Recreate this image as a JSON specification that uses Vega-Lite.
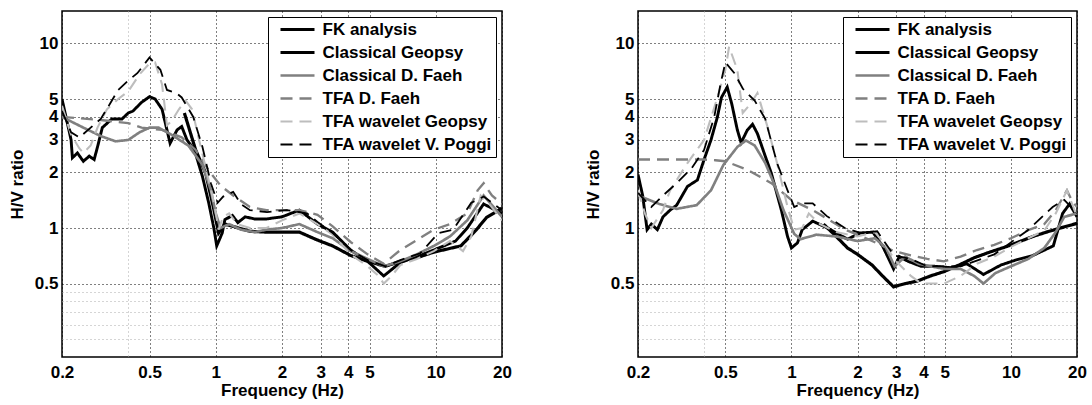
{
"$schema": "https://vega.github.io/schema/vega-lite/v6.json",
"padding": {"left": 7, "top": 10, "right": 4, "bottom": 0},
"config": {
  "font": "Liberation Sans",
  "view": {"stroke": "black", "strokeWidth": 1.5},
  "axis": {"labelFont": "Liberation Sans", "labelFontWeight": "bold", "labelFontSize": 17, "labelColor": "black", "titleFont": "Liberation Sans", "titleFontSize": 17, "titleFontWeight": "bold", "titleColor": "black", "domain": false, "ticks": false, "tickSize": 0, "gridColor": "black", "gridDash": [1, 3], "gridWidth": 1, "gridOpacity": 1, "labelFlush": false, "labelOverlap": false},
  "legend": {"orient": "top-right", "offset": 6, "padding": 4, "rowPadding": 5, "labelFont": "Liberation Sans", "labelFontSize": 17, "labelFontWeight": "bold", "labelColor": "black", "symbolType": "M0,0H8", "symbolSize": 72.25, "strokeColor": "black", "fillColor": "white", "labelOffset": 33.5, "labelLimit": 300}
},
"data": {"values": [
{"p":"L","s":"FK analysis","f":0.72,"v":4.2},{"p":"L","s":"FK analysis","f":0.81,"v":2.65},{"p":"L","s":"FK analysis","f":0.9,"v":1.98},{"p":"L","s":"FK analysis","f":0.98,"v":1.26},{"p":"L","s":"FK analysis","f":1.03,"v":0.94},{"p":"L","s":"FK analysis","f":1.1,"v":1.05},{"p":"L","s":"FK analysis","f":1.2,"v":1.02},{"p":"L","s":"FK analysis","f":1.43,"v":0.96},{"p":"L","s":"FK analysis","f":1.7,"v":0.95},{"p":"L","s":"FK analysis","f":2.0,"v":0.95},{"p":"L","s":"FK analysis","f":2.4,"v":0.95},{"p":"L","s":"FK analysis","f":2.9,"v":0.86},{"p":"L","s":"FK analysis","f":3.4,"v":0.8},{"p":"L","s":"FK analysis","f":4.1,"v":0.71},{"p":"L","s":"FK analysis","f":4.9,"v":0.66},{"p":"L","s":"FK analysis","f":5.9,"v":0.62},{"p":"L","s":"FK analysis","f":6.9,"v":0.66},{"p":"L","s":"FK analysis","f":8.5,"v":0.7},{"p":"L","s":"FK analysis","f":9.8,"v":0.74},{"p":"L","s":"FK analysis","f":13,"v":0.8},{"p":"L","s":"FK analysis","f":15.2,"v":0.97},{"p":"L","s":"FK analysis","f":17,"v":1.14},{"p":"L","s":"FK analysis","f":20,"v":1.28},
{"p":"L","s":"Classical Geopsy","f":0.2,"v":5.0},{"p":"L","s":"Classical Geopsy","f":0.22,"v":3.0},{"p":"L","s":"Classical Geopsy","f":0.223,"v":2.4},{"p":"L","s":"Classical Geopsy","f":0.235,"v":2.55},{"p":"L","s":"Classical Geopsy","f":0.25,"v":2.3},{"p":"L","s":"Classical Geopsy","f":0.266,"v":2.45},{"p":"L","s":"Classical Geopsy","f":0.28,"v":2.35},{"p":"L","s":"Classical Geopsy","f":0.29,"v":2.75},{"p":"L","s":"Classical Geopsy","f":0.305,"v":3.5},{"p":"L","s":"Classical Geopsy","f":0.337,"v":3.9},{"p":"L","s":"Classical Geopsy","f":0.375,"v":3.9},{"p":"L","s":"Classical Geopsy","f":0.4,"v":4.2},{"p":"L","s":"Classical Geopsy","f":0.42,"v":4.3},{"p":"L","s":"Classical Geopsy","f":0.46,"v":4.8},{"p":"L","s":"Classical Geopsy","f":0.5,"v":5.15},{"p":"L","s":"Classical Geopsy","f":0.53,"v":5.0},{"p":"L","s":"Classical Geopsy","f":0.57,"v":4.4},{"p":"L","s":"Classical Geopsy","f":0.6,"v":3.4},{"p":"L","s":"Classical Geopsy","f":0.62,"v":2.88},{"p":"L","s":"Classical Geopsy","f":0.667,"v":3.4},{"p":"L","s":"Classical Geopsy","f":0.7,"v":3.55},{"p":"L","s":"Classical Geopsy","f":0.74,"v":3.0},{"p":"L","s":"Classical Geopsy","f":0.8,"v":2.65},{"p":"L","s":"Classical Geopsy","f":0.87,"v":1.9},{"p":"L","s":"Classical Geopsy","f":0.93,"v":1.36},{"p":"L","s":"Classical Geopsy","f":0.98,"v":1.0},{"p":"L","s":"Classical Geopsy","f":1.01,"v":0.8},{"p":"L","s":"Classical Geopsy","f":1.07,"v":0.94},{"p":"L","s":"Classical Geopsy","f":1.1,"v":1.11},{"p":"L","s":"Classical Geopsy","f":1.19,"v":1.17},{"p":"L","s":"Classical Geopsy","f":1.26,"v":1.07},{"p":"L","s":"Classical Geopsy","f":1.36,"v":1.15},{"p":"L","s":"Classical Geopsy","f":1.5,"v":1.12},{"p":"L","s":"Classical Geopsy","f":1.7,"v":1.12},{"p":"L","s":"Classical Geopsy","f":2.0,"v":1.15},{"p":"L","s":"Classical Geopsy","f":2.4,"v":1.25},{"p":"L","s":"Classical Geopsy","f":2.9,"v":1.05},{"p":"L","s":"Classical Geopsy","f":3.4,"v":0.95},{"p":"L","s":"Classical Geopsy","f":4.1,"v":0.76},{"p":"L","s":"Classical Geopsy","f":4.9,"v":0.66},{"p":"L","s":"Classical Geopsy","f":5.8,"v":0.55},{"p":"L","s":"Classical Geopsy","f":6.9,"v":0.65},{"p":"L","s":"Classical Geopsy","f":8.2,"v":0.7},{"p":"L","s":"Classical Geopsy","f":9.8,"v":0.76},{"p":"L","s":"Classical Geopsy","f":12.3,"v":0.85},{"p":"L","s":"Classical Geopsy","f":13.9,"v":1.0},{"p":"L","s":"Classical Geopsy","f":16.5,"v":1.35},{"p":"L","s":"Classical Geopsy","f":20,"v":1.2},
{"p":"L","s":"Classical D. Faeh","f":0.2,"v":4.0},{"p":"L","s":"Classical D. Faeh","f":0.25,"v":3.5},{"p":"L","s":"Classical D. Faeh","f":0.3,"v":3.15},{"p":"L","s":"Classical D. Faeh","f":0.35,"v":2.95},{"p":"L","s":"Classical D. Faeh","f":0.4,"v":3.0},{"p":"L","s":"Classical D. Faeh","f":0.45,"v":3.3},{"p":"L","s":"Classical D. Faeh","f":0.5,"v":3.5},{"p":"L","s":"Classical D. Faeh","f":0.55,"v":3.5},{"p":"L","s":"Classical D. Faeh","f":0.63,"v":3.2},{"p":"L","s":"Classical D. Faeh","f":0.75,"v":2.8},{"p":"L","s":"Classical D. Faeh","f":0.87,"v":2.2},{"p":"L","s":"Classical D. Faeh","f":0.95,"v":1.6},{"p":"L","s":"Classical D. Faeh","f":1.0,"v":1.2},{"p":"L","s":"Classical D. Faeh","f":1.05,"v":1.0},{"p":"L","s":"Classical D. Faeh","f":1.15,"v":1.05},{"p":"L","s":"Classical D. Faeh","f":1.3,"v":0.98},{"p":"L","s":"Classical D. Faeh","f":1.5,"v":0.95},{"p":"L","s":"Classical D. Faeh","f":1.7,"v":0.98},{"p":"L","s":"Classical D. Faeh","f":2.0,"v":1.0},{"p":"L","s":"Classical D. Faeh","f":2.4,"v":1.05},{"p":"L","s":"Classical D. Faeh","f":2.9,"v":0.95},{"p":"L","s":"Classical D. Faeh","f":3.4,"v":0.88},{"p":"L","s":"Classical D. Faeh","f":4.1,"v":0.75},{"p":"L","s":"Classical D. Faeh","f":4.9,"v":0.68},{"p":"L","s":"Classical D. Faeh","f":5.8,"v":0.62},{"p":"L","s":"Classical D. Faeh","f":6.9,"v":0.66},{"p":"L","s":"Classical D. Faeh","f":8.2,"v":0.72},{"p":"L","s":"Classical D. Faeh","f":9.8,"v":0.8},{"p":"L","s":"Classical D. Faeh","f":11.6,"v":0.9},{"p":"L","s":"Classical D. Faeh","f":13.9,"v":1.1},{"p":"L","s":"Classical D. Faeh","f":16.5,"v":1.5},{"p":"L","s":"Classical D. Faeh","f":20,"v":1.15},
{"p":"L","s":"TFA D. Faeh","f":0.2,"v":4.0},{"p":"L","s":"TFA D. Faeh","f":0.3,"v":3.85},{"p":"L","s":"TFA D. Faeh","f":0.4,"v":3.7},{"p":"L","s":"TFA D. Faeh","f":0.46,"v":3.5},{"p":"L","s":"TFA D. Faeh","f":0.57,"v":3.4},{"p":"L","s":"TFA D. Faeh","f":0.7,"v":3.1},{"p":"L","s":"TFA D. Faeh","f":0.81,"v":2.65},{"p":"L","s":"TFA D. Faeh","f":0.93,"v":2.05},{"p":"L","s":"TFA D. Faeh","f":1.05,"v":1.7},{"p":"L","s":"TFA D. Faeh","f":1.2,"v":1.5},{"p":"L","s":"TFA D. Faeh","f":1.43,"v":1.3},{"p":"L","s":"TFA D. Faeh","f":1.7,"v":1.25},{"p":"L","s":"TFA D. Faeh","f":2.0,"v":1.25},{"p":"L","s":"TFA D. Faeh","f":2.4,"v":1.25},{"p":"L","s":"TFA D. Faeh","f":2.9,"v":1.18},{"p":"L","s":"TFA D. Faeh","f":3.4,"v":1.02},{"p":"L","s":"TFA D. Faeh","f":4.1,"v":0.84},{"p":"L","s":"TFA D. Faeh","f":4.9,"v":0.72},{"p":"L","s":"TFA D. Faeh","f":5.8,"v":0.64},{"p":"L","s":"TFA D. Faeh","f":6.9,"v":0.76},{"p":"L","s":"TFA D. Faeh","f":8.2,"v":0.86},{"p":"L","s":"TFA D. Faeh","f":9.8,"v":0.98},{"p":"L","s":"TFA D. Faeh","f":11.6,"v":1.05},{"p":"L","s":"TFA D. Faeh","f":13.9,"v":1.2},{"p":"L","s":"TFA D. Faeh","f":15.5,"v":1.6},{"p":"L","s":"TFA D. Faeh","f":16.5,"v":1.75},{"p":"L","s":"TFA D. Faeh","f":18,"v":1.5},{"p":"L","s":"TFA D. Faeh","f":20,"v":1.35},
{"p":"L","s":"TFA wavelet Geopsy","f":0.2,"v":4.6},{"p":"L","s":"TFA wavelet Geopsy","f":0.22,"v":3.2},{"p":"L","s":"TFA wavelet Geopsy","f":0.24,"v":2.7},{"p":"L","s":"TFA wavelet Geopsy","f":0.25,"v":2.55},{"p":"L","s":"TFA wavelet Geopsy","f":0.27,"v":2.8},{"p":"L","s":"TFA wavelet Geopsy","f":0.29,"v":3.5},{"p":"L","s":"TFA wavelet Geopsy","f":0.32,"v":4.4},{"p":"L","s":"TFA wavelet Geopsy","f":0.36,"v":5.0},{"p":"L","s":"TFA wavelet Geopsy","f":0.4,"v":5.5},{"p":"L","s":"TFA wavelet Geopsy","f":0.45,"v":6.8},{"p":"L","s":"TFA wavelet Geopsy","f":0.5,"v":7.8},{"p":"L","s":"TFA wavelet Geopsy","f":0.53,"v":7.9},{"p":"L","s":"TFA wavelet Geopsy","f":0.57,"v":6.0},{"p":"L","s":"TFA wavelet Geopsy","f":0.6,"v":3.6},{"p":"L","s":"TFA wavelet Geopsy","f":0.63,"v":3.8},{"p":"L","s":"TFA wavelet Geopsy","f":0.68,"v":4.4},{"p":"L","s":"TFA wavelet Geopsy","f":0.73,"v":4.9},{"p":"L","s":"TFA wavelet Geopsy","f":0.78,"v":4.4},{"p":"L","s":"TFA wavelet Geopsy","f":0.84,"v":3.0},{"p":"L","s":"TFA wavelet Geopsy","f":0.93,"v":1.8},{"p":"L","s":"TFA wavelet Geopsy","f":0.99,"v":1.3},{"p":"L","s":"TFA wavelet Geopsy","f":1.03,"v":0.98},{"p":"L","s":"TFA wavelet Geopsy","f":1.08,"v":1.15},{"p":"L","s":"TFA wavelet Geopsy","f":1.15,"v":1.2},{"p":"L","s":"TFA wavelet Geopsy","f":1.25,"v":1.05},{"p":"L","s":"TFA wavelet Geopsy","f":1.43,"v":1.0},{"p":"L","s":"TFA wavelet Geopsy","f":1.7,"v":1.0},{"p":"L","s":"TFA wavelet Geopsy","f":2.0,"v":1.1},{"p":"L","s":"TFA wavelet Geopsy","f":2.4,"v":1.2},{"p":"L","s":"TFA wavelet Geopsy","f":2.9,"v":1.05},{"p":"L","s":"TFA wavelet Geopsy","f":3.4,"v":0.92},{"p":"L","s":"TFA wavelet Geopsy","f":4.1,"v":0.72},{"p":"L","s":"TFA wavelet Geopsy","f":4.9,"v":0.62},{"p":"L","s":"TFA wavelet Geopsy","f":5.5,"v":0.55},{"p":"L","s":"TFA wavelet Geopsy","f":5.8,"v":0.5},{"p":"L","s":"TFA wavelet Geopsy","f":6.3,"v":0.55},{"p":"L","s":"TFA wavelet Geopsy","f":6.9,"v":0.63},{"p":"L","s":"TFA wavelet Geopsy","f":8.2,"v":0.68},{"p":"L","s":"TFA wavelet Geopsy","f":9.8,"v":0.75},{"p":"L","s":"TFA wavelet Geopsy","f":11.6,"v":0.85},{"p":"L","s":"TFA wavelet Geopsy","f":13.3,"v":0.75},{"p":"L","s":"TFA wavelet Geopsy","f":14.5,"v":0.9},{"p":"L","s":"TFA wavelet Geopsy","f":16,"v":1.5},{"p":"L","s":"TFA wavelet Geopsy","f":17.5,"v":1.35},{"p":"L","s":"TFA wavelet Geopsy","f":20,"v":1.1},
{"p":"L","s":"TFA wavelet V. Poggi","f":0.2,"v":4.3},{"p":"L","s":"TFA wavelet V. Poggi","f":0.22,"v":3.3},{"p":"L","s":"TFA wavelet V. Poggi","f":0.24,"v":3.1},{"p":"L","s":"TFA wavelet V. Poggi","f":0.27,"v":3.5},{"p":"L","s":"TFA wavelet V. Poggi","f":0.3,"v":3.9},{"p":"L","s":"TFA wavelet V. Poggi","f":0.33,"v":4.7},{"p":"L","s":"TFA wavelet V. Poggi","f":0.36,"v":5.6},{"p":"L","s":"TFA wavelet V. Poggi","f":0.4,"v":6.3},{"p":"L","s":"TFA wavelet V. Poggi","f":0.44,"v":6.9},{"p":"L","s":"TFA wavelet V. Poggi","f":0.5,"v":8.4},{"p":"L","s":"TFA wavelet V. Poggi","f":0.56,"v":7.2},{"p":"L","s":"TFA wavelet V. Poggi","f":0.6,"v":5.6},{"p":"L","s":"TFA wavelet V. Poggi","f":0.66,"v":5.4},{"p":"L","s":"TFA wavelet V. Poggi","f":0.7,"v":5.1},{"p":"L","s":"TFA wavelet V. Poggi","f":0.79,"v":4.0},{"p":"L","s":"TFA wavelet V. Poggi","f":0.87,"v":2.75},{"p":"L","s":"TFA wavelet V. Poggi","f":0.95,"v":1.75},{"p":"L","s":"TFA wavelet V. Poggi","f":1.02,"v":1.37},{"p":"L","s":"TFA wavelet V. Poggi","f":1.08,"v":1.48},{"p":"L","s":"TFA wavelet V. Poggi","f":1.2,"v":1.57},{"p":"L","s":"TFA wavelet V. Poggi","f":1.3,"v":1.35},{"p":"L","s":"TFA wavelet V. Poggi","f":1.43,"v":1.25},{"p":"L","s":"TFA wavelet V. Poggi","f":1.71,"v":1.22},{"p":"L","s":"TFA wavelet V. Poggi","f":2.1,"v":1.25},{"p":"L","s":"TFA wavelet V. Poggi","f":2.6,"v":1.2},{"p":"L","s":"TFA wavelet V. Poggi","f":2.9,"v":1.08},{"p":"L","s":"TFA wavelet V. Poggi","f":3.4,"v":0.94},{"p":"L","s":"TFA wavelet V. Poggi","f":4.1,"v":0.76},{"p":"L","s":"TFA wavelet V. Poggi","f":4.9,"v":0.67},{"p":"L","s":"TFA wavelet V. Poggi","f":5.9,"v":0.62},{"p":"L","s":"TFA wavelet V. Poggi","f":6.9,"v":0.67},{"p":"L","s":"TFA wavelet V. Poggi","f":8.5,"v":0.73},{"p":"L","s":"TFA wavelet V. Poggi","f":10.3,"v":0.94},{"p":"L","s":"TFA wavelet V. Poggi","f":12,"v":0.98},{"p":"L","s":"TFA wavelet V. Poggi","f":14.5,"v":1.37},{"p":"L","s":"TFA wavelet V. Poggi","f":16.5,"v":1.48},{"p":"L","s":"TFA wavelet V. Poggi","f":20,"v":1.25},
{"p":"R","s":"FK analysis","f":1.4,"v":1.05},{"p":"R","s":"FK analysis","f":1.6,"v":0.9},{"p":"R","s":"FK analysis","f":1.8,"v":0.78},{"p":"R","s":"FK analysis","f":2.0,"v":0.72},{"p":"R","s":"FK analysis","f":2.33,"v":0.63},{"p":"R","s":"FK analysis","f":2.6,"v":0.55},{"p":"R","s":"FK analysis","f":2.92,"v":0.48},{"p":"R","s":"FK analysis","f":3.3,"v":0.5},{"p":"R","s":"FK analysis","f":3.73,"v":0.515},{"p":"R","s":"FK analysis","f":4.3,"v":0.55},{"p":"R","s":"FK analysis","f":4.95,"v":0.58},{"p":"R","s":"FK analysis","f":5.8,"v":0.63},{"p":"R","s":"FK analysis","f":6.8,"v":0.69},{"p":"R","s":"FK analysis","f":8,"v":0.74},{"p":"R","s":"FK analysis","f":9.6,"v":0.795},{"p":"R","s":"FK analysis","f":12.6,"v":0.9},{"p":"R","s":"FK analysis","f":14.5,"v":0.95},{"p":"R","s":"FK analysis","f":16.8,"v":1.0},{"p":"R","s":"FK analysis","f":20,"v":1.06},
{"p":"R","s":"Classical Geopsy","f":0.2,"v":1.95},{"p":"R","s":"Classical Geopsy","f":0.21,"v":1.5},{"p":"R","s":"Classical Geopsy","f":0.22,"v":0.98},{"p":"R","s":"Classical Geopsy","f":0.23,"v":1.05},{"p":"R","s":"Classical Geopsy","f":0.245,"v":0.98},{"p":"R","s":"Classical Geopsy","f":0.26,"v":1.15},{"p":"R","s":"Classical Geopsy","f":0.28,"v":1.25},{"p":"R","s":"Classical Geopsy","f":0.3,"v":1.33},{"p":"R","s":"Classical Geopsy","f":0.336,"v":1.68},{"p":"R","s":"Classical Geopsy","f":0.373,"v":1.82},{"p":"R","s":"Classical Geopsy","f":0.4,"v":2.35},{"p":"R","s":"Classical Geopsy","f":0.43,"v":3.0},{"p":"R","s":"Classical Geopsy","f":0.46,"v":4.0},{"p":"R","s":"Classical Geopsy","f":0.48,"v":5.1},{"p":"R","s":"Classical Geopsy","f":0.51,"v":5.8},{"p":"R","s":"Classical Geopsy","f":0.535,"v":4.7},{"p":"R","s":"Classical Geopsy","f":0.567,"v":3.4},{"p":"R","s":"Classical Geopsy","f":0.59,"v":2.9},{"p":"R","s":"Classical Geopsy","f":0.63,"v":3.4},{"p":"R","s":"Classical Geopsy","f":0.665,"v":3.65},{"p":"R","s":"Classical Geopsy","f":0.7,"v":3.25},{"p":"R","s":"Classical Geopsy","f":0.76,"v":2.45},{"p":"R","s":"Classical Geopsy","f":0.81,"v":1.98},{"p":"R","s":"Classical Geopsy","f":0.9,"v":1.25},{"p":"R","s":"Classical Geopsy","f":0.96,"v":0.9},{"p":"R","s":"Classical Geopsy","f":1.0,"v":0.78},{"p":"R","s":"Classical Geopsy","f":1.065,"v":0.83},{"p":"R","s":"Classical Geopsy","f":1.12,"v":0.98},{"p":"R","s":"Classical Geopsy","f":1.25,"v":1.09},{"p":"R","s":"Classical Geopsy","f":1.46,"v":1.0},{"p":"R","s":"Classical Geopsy","f":1.8,"v":0.87},{"p":"R","s":"Classical Geopsy","f":2.06,"v":0.94},{"p":"R","s":"Classical Geopsy","f":2.35,"v":0.95},{"p":"R","s":"Classical Geopsy","f":2.6,"v":0.8},{"p":"R","s":"Classical Geopsy","f":2.92,"v":0.6},{"p":"R","s":"Classical Geopsy","f":3.1,"v":0.7},{"p":"R","s":"Classical Geopsy","f":3.4,"v":0.66},{"p":"R","s":"Classical Geopsy","f":3.9,"v":0.62},{"p":"R","s":"Classical Geopsy","f":4.5,"v":0.62},{"p":"R","s":"Classical Geopsy","f":5.3,"v":0.61},{"p":"R","s":"Classical Geopsy","f":6.3,"v":0.64},{"p":"R","s":"Classical Geopsy","f":7.5,"v":0.56},{"p":"R","s":"Classical Geopsy","f":9.0,"v":0.63},{"p":"R","s":"Classical Geopsy","f":10.5,"v":0.67},{"p":"R","s":"Classical Geopsy","f":12.6,"v":0.71},{"p":"R","s":"Classical Geopsy","f":15.6,"v":0.8},{"p":"R","s":"Classical Geopsy","f":17.2,"v":1.2},{"p":"R","s":"Classical Geopsy","f":18.5,"v":1.35},{"p":"R","s":"Classical Geopsy","f":20,"v":1.15},
{"p":"R","s":"Classical D. Faeh","f":0.2,"v":1.5},{"p":"R","s":"Classical D. Faeh","f":0.25,"v":1.35},{"p":"R","s":"Classical D. Faeh","f":0.3,"v":1.27},{"p":"R","s":"Classical D. Faeh","f":0.37,"v":1.33},{"p":"R","s":"Classical D. Faeh","f":0.43,"v":1.6},{"p":"R","s":"Classical D. Faeh","f":0.49,"v":2.2},{"p":"R","s":"Classical D. Faeh","f":0.567,"v":2.75},{"p":"R","s":"Classical D. Faeh","f":0.62,"v":2.98},{"p":"R","s":"Classical D. Faeh","f":0.68,"v":2.8},{"p":"R","s":"Classical D. Faeh","f":0.76,"v":2.25},{"p":"R","s":"Classical D. Faeh","f":0.84,"v":1.7},{"p":"R","s":"Classical D. Faeh","f":0.92,"v":1.25},{"p":"R","s":"Classical D. Faeh","f":1.03,"v":0.93},{"p":"R","s":"Classical D. Faeh","f":1.1,"v":0.87},{"p":"R","s":"Classical D. Faeh","f":1.3,"v":0.92},{"p":"R","s":"Classical D. Faeh","f":1.6,"v":0.9},{"p":"R","s":"Classical D. Faeh","f":2.0,"v":0.85},{"p":"R","s":"Classical D. Faeh","f":2.4,"v":0.88},{"p":"R","s":"Classical D. Faeh","f":2.7,"v":0.78},{"p":"R","s":"Classical D. Faeh","f":2.95,"v":0.62},{"p":"R","s":"Classical D. Faeh","f":3.3,"v":0.7},{"p":"R","s":"Classical D. Faeh","f":3.8,"v":0.64},{"p":"R","s":"Classical D. Faeh","f":4.3,"v":0.62},{"p":"R","s":"Classical D. Faeh","f":5.0,"v":0.6},{"p":"R","s":"Classical D. Faeh","f":5.9,"v":0.6},{"p":"R","s":"Classical D. Faeh","f":6.8,"v":0.55},{"p":"R","s":"Classical D. Faeh","f":7.5,"v":0.5},{"p":"R","s":"Classical D. Faeh","f":8.5,"v":0.57},{"p":"R","s":"Classical D. Faeh","f":10,"v":0.62},{"p":"R","s":"Classical D. Faeh","f":12,"v":0.68},{"p":"R","s":"Classical D. Faeh","f":14.2,"v":0.78},{"p":"R","s":"Classical D. Faeh","f":16,"v":0.95},{"p":"R","s":"Classical D. Faeh","f":17.5,"v":1.15},{"p":"R","s":"Classical D. Faeh","f":20,"v":1.2},
{"p":"R","s":"TFA D. Faeh","f":0.2,"v":2.35},{"p":"R","s":"TFA D. Faeh","f":0.3,"v":2.35},{"p":"R","s":"TFA D. Faeh","f":0.4,"v":2.35},{"p":"R","s":"TFA D. Faeh","f":0.45,"v":2.33},{"p":"R","s":"TFA D. Faeh","f":0.5,"v":2.3},{"p":"R","s":"TFA D. Faeh","f":0.63,"v":2.07},{"p":"R","s":"TFA D. Faeh","f":0.81,"v":1.75},{"p":"R","s":"TFA D. Faeh","f":1.0,"v":1.42},{"p":"R","s":"TFA D. Faeh","f":1.25,"v":1.25},{"p":"R","s":"TFA D. Faeh","f":1.5,"v":1.1},{"p":"R","s":"TFA D. Faeh","f":1.75,"v":0.98},{"p":"R","s":"TFA D. Faeh","f":2.0,"v":0.92},{"p":"R","s":"TFA D. Faeh","f":2.5,"v":0.82},{"p":"R","s":"TFA D. Faeh","f":2.93,"v":0.75},{"p":"R","s":"TFA D. Faeh","f":3.5,"v":0.71},{"p":"R","s":"TFA D. Faeh","f":4.16,"v":0.68},{"p":"R","s":"TFA D. Faeh","f":4.95,"v":0.66},{"p":"R","s":"TFA D. Faeh","f":5.9,"v":0.7},{"p":"R","s":"TFA D. Faeh","f":7.0,"v":0.76},{"p":"R","s":"TFA D. Faeh","f":8.4,"v":0.81},{"p":"R","s":"TFA D. Faeh","f":10,"v":0.88},{"p":"R","s":"TFA D. Faeh","f":11.9,"v":0.97},{"p":"R","s":"TFA D. Faeh","f":14.2,"v":1.05},{"p":"R","s":"TFA D. Faeh","f":16,"v":1.25},{"p":"R","s":"TFA D. Faeh","f":18,"v":1.6},{"p":"R","s":"TFA D. Faeh","f":19,"v":1.4},{"p":"R","s":"TFA D. Faeh","f":20,"v":1.3},
{"p":"R","s":"TFA wavelet Geopsy","f":0.2,"v":1.6},{"p":"R","s":"TFA wavelet Geopsy","f":0.215,"v":1.2},{"p":"R","s":"TFA wavelet Geopsy","f":0.23,"v":1.0},{"p":"R","s":"TFA wavelet Geopsy","f":0.26,"v":1.25},{"p":"R","s":"TFA wavelet Geopsy","f":0.28,"v":1.6},{"p":"R","s":"TFA wavelet Geopsy","f":0.336,"v":2.25},{"p":"R","s":"TFA wavelet Geopsy","f":0.4,"v":3.0},{"p":"R","s":"TFA wavelet Geopsy","f":0.46,"v":5.1},{"p":"R","s":"TFA wavelet Geopsy","f":0.5,"v":7.2},{"p":"R","s":"TFA wavelet Geopsy","f":0.52,"v":9.6},{"p":"R","s":"TFA wavelet Geopsy","f":0.567,"v":7.2},{"p":"R","s":"TFA wavelet Geopsy","f":0.6,"v":4.2},{"p":"R","s":"TFA wavelet Geopsy","f":0.65,"v":4.7},{"p":"R","s":"TFA wavelet Geopsy","f":0.7,"v":5.4},{"p":"R","s":"TFA wavelet Geopsy","f":0.78,"v":3.5},{"p":"R","s":"TFA wavelet Geopsy","f":0.86,"v":2.25},{"p":"R","s":"TFA wavelet Geopsy","f":0.96,"v":1.3},{"p":"R","s":"TFA wavelet Geopsy","f":1.03,"v":0.98},{"p":"R","s":"TFA wavelet Geopsy","f":1.12,"v":1.0},{"p":"R","s":"TFA wavelet Geopsy","f":1.2,"v":1.2},{"p":"R","s":"TFA wavelet Geopsy","f":1.35,"v":1.05},{"p":"R","s":"TFA wavelet Geopsy","f":1.6,"v":0.95},{"p":"R","s":"TFA wavelet Geopsy","f":2.0,"v":0.9},{"p":"R","s":"TFA wavelet Geopsy","f":2.4,"v":0.95},{"p":"R","s":"TFA wavelet Geopsy","f":2.7,"v":0.8},{"p":"R","s":"TFA wavelet Geopsy","f":2.93,"v":0.68},{"p":"R","s":"TFA wavelet Geopsy","f":3.5,"v":0.55},{"p":"R","s":"TFA wavelet Geopsy","f":3.9,"v":0.5},{"p":"R","s":"TFA wavelet Geopsy","f":4.5,"v":0.5},{"p":"R","s":"TFA wavelet Geopsy","f":4.95,"v":0.5},{"p":"R","s":"TFA wavelet Geopsy","f":5.9,"v":0.55},{"p":"R","s":"TFA wavelet Geopsy","f":7.0,"v":0.64},{"p":"R","s":"TFA wavelet Geopsy","f":8.4,"v":0.7},{"p":"R","s":"TFA wavelet Geopsy","f":10,"v":0.79},{"p":"R","s":"TFA wavelet Geopsy","f":12,"v":0.88},{"p":"R","s":"TFA wavelet Geopsy","f":14.2,"v":0.97},{"p":"R","s":"TFA wavelet Geopsy","f":16,"v":1.2},{"p":"R","s":"TFA wavelet Geopsy","f":18,"v":1.6},{"p":"R","s":"TFA wavelet Geopsy","f":20,"v":1.15},
{"p":"R","s":"TFA wavelet V. Poggi","f":0.2,"v":1.55},{"p":"R","s":"TFA wavelet V. Poggi","f":0.23,"v":1.3},{"p":"R","s":"TFA wavelet V. Poggi","f":0.26,"v":1.5},{"p":"R","s":"TFA wavelet V. Poggi","f":0.3,"v":1.75},{"p":"R","s":"TFA wavelet V. Poggi","f":0.35,"v":2.1},{"p":"R","s":"TFA wavelet V. Poggi","f":0.4,"v":2.65},{"p":"R","s":"TFA wavelet V. Poggi","f":0.445,"v":4.0},{"p":"R","s":"TFA wavelet V. Poggi","f":0.475,"v":6.0},{"p":"R","s":"TFA wavelet V. Poggi","f":0.5,"v":7.9},{"p":"R","s":"TFA wavelet V. Poggi","f":0.55,"v":6.9},{"p":"R","s":"TFA wavelet V. Poggi","f":0.6,"v":5.7},{"p":"R","s":"TFA wavelet V. Poggi","f":0.68,"v":4.9},{"p":"R","s":"TFA wavelet V. Poggi","f":0.76,"v":3.9},{"p":"R","s":"TFA wavelet V. Poggi","f":0.86,"v":2.25},{"p":"R","s":"TFA wavelet V. Poggi","f":0.96,"v":1.6},{"p":"R","s":"TFA wavelet V. Poggi","f":1.03,"v":1.3},{"p":"R","s":"TFA wavelet V. Poggi","f":1.12,"v":1.36},{"p":"R","s":"TFA wavelet V. Poggi","f":1.25,"v":1.36},{"p":"R","s":"TFA wavelet V. Poggi","f":1.45,"v":1.16},{"p":"R","s":"TFA wavelet V. Poggi","f":1.75,"v":1.0},{"p":"R","s":"TFA wavelet V. Poggi","f":2.06,"v":0.94},{"p":"R","s":"TFA wavelet V. Poggi","f":2.46,"v":0.96},{"p":"R","s":"TFA wavelet V. Poggi","f":2.93,"v":0.71},{"p":"R","s":"TFA wavelet V. Poggi","f":3.5,"v":0.68},{"p":"R","s":"TFA wavelet V. Poggi","f":4.16,"v":0.62},{"p":"R","s":"TFA wavelet V. Poggi","f":5.9,"v":0.62},{"p":"R","s":"TFA wavelet V. Poggi","f":8.4,"v":0.72},{"p":"R","s":"TFA wavelet V. Poggi","f":11.9,"v":0.97},{"p":"R","s":"TFA wavelet V. Poggi","f":15.5,"v":1.3},{"p":"R","s":"TFA wavelet V. Poggi","f":17.5,"v":1.42},{"p":"R","s":"TFA wavelet V. Poggi","f":20,"v":1.2}
]},
"bounds": "flush",
"spacing": 136,
"resolve": {"scale": {"color": "independent", "strokeDash": "independent", "strokeWidth": "independent"}, "legend": {"color": "independent", "strokeDash": "independent", "strokeWidth": "independent"}},
"hconcat": [
{
  "width": 440, "height": 346,
  "transform": [{"filter": "datum.p == 'L'"}],
  "mark": {"type": "line", "clip": true},
  "encoding": {
    "x": {"field": "f", "type": "quantitative", "scale": {"type": "log", "domain": [0.2, 20], "nice": false}, "axis": {"values": [0.2, 0.4, 0.5, 1, 2, 3, 4, 5, 10, 20], "format": "~g", "labelExpr": "datum.value == 0.4 ? '' : datum.label", "title": "Frequency (Hz)", "labelPadding": 7, "titlePadding": 2, "gridColor": {"condition": {"test": "datum.value == 0.4", "value": "#aaaaaa"}, "value": "black"}}},
    "y": {"field": "v", "type": "quantitative", "scale": {"type": "log", "domain": [0.2, 15], "nice": false}, "axis": {"values": [0.25, 0.3, 0.35, 0.4, 0.45, 0.5, 1, 2, 3, 4, 5, 10], "format": "~g", "labelExpr": "datum.value < 0.5 ? '' : datum.label", "title": "H/V ratio", "labelPadding": 4, "titlePadding": 8, "gridColor": {"condition": {"test": "datum.value < 0.5", "value": "#aaaaaa"}, "value": "black"}}},
    "color": {"field": "s", "type": "nominal", "title": null, "scale": {"domain": ["FK analysis", "Classical Geopsy", "Classical D. Faeh", "TFA D. Faeh", "TFA wavelet Geopsy", "TFA wavelet V. Poggi"], "range": ["black", "black", "#808080", "#808080", "#bdbdbd", "black"]}},
    "strokeDash": {"field": "s", "type": "nominal", "title": null, "scale": {"domain": ["FK analysis", "Classical Geopsy", "Classical D. Faeh", "TFA D. Faeh", "TFA wavelet Geopsy", "TFA wavelet V. Poggi"], "range": [[1, 0], [1, 0], [1, 0], [12, 7], [12, 7], [12, 7]]}},
    "strokeWidth": {"field": "s", "type": "nominal", "title": null, "scale": {"domain": ["FK analysis", "Classical Geopsy", "Classical D. Faeh", "TFA D. Faeh", "TFA wavelet Geopsy", "TFA wavelet V. Poggi"], "range": [3.2, 1.8, 2, 2, 2.2, 2]}}
  }
},
{
  "width": 439, "height": 346,
  "transform": [{"filter": "datum.p == 'R'"}],
  "mark": {"type": "line", "clip": true},
  "encoding": {
    "x": {"field": "f", "type": "quantitative", "scale": {"type": "log", "domain": [0.2, 20], "nice": false}, "axis": {"values": [0.2, 0.4, 0.5, 1, 2, 3, 4, 5, 10, 20], "format": "~g", "labelExpr": "datum.value == 0.4 ? '' : datum.label", "title": "Frequency (Hz)", "labelPadding": 7, "titlePadding": 2, "gridColor": {"condition": {"test": "datum.value == 0.4", "value": "#aaaaaa"}, "value": "black"}}},
    "y": {"field": "v", "type": "quantitative", "scale": {"type": "log", "domain": [0.2, 15], "nice": false}, "axis": {"values": [0.25, 0.3, 0.35, 0.4, 0.45, 0.5, 1, 2, 3, 4, 5, 10], "format": "~g", "labelExpr": "datum.value < 0.5 ? '' : datum.label", "title": "H/V ratio", "labelPadding": 4, "titlePadding": 8, "gridColor": {"condition": {"test": "datum.value < 0.5", "value": "#aaaaaa"}, "value": "black"}}},
    "color": {"field": "s", "type": "nominal", "title": null, "scale": {"domain": ["FK analysis", "Classical Geopsy", "Classical D. Faeh", "TFA D. Faeh", "TFA wavelet Geopsy", "TFA wavelet V. Poggi"], "range": ["black", "black", "#808080", "#808080", "#bdbdbd", "black"]}},
    "strokeDash": {"field": "s", "type": "nominal", "title": null, "scale": {"domain": ["FK analysis", "Classical Geopsy", "Classical D. Faeh", "TFA D. Faeh", "TFA wavelet Geopsy", "TFA wavelet V. Poggi"], "range": [[1, 0], [1, 0], [1, 0], [12, 7], [12, 7], [12, 7]]}},
    "strokeWidth": {"field": "s", "type": "nominal", "title": null, "scale": {"domain": ["FK analysis", "Classical Geopsy", "Classical D. Faeh", "TFA D. Faeh", "TFA wavelet Geopsy", "TFA wavelet V. Poggi"], "range": [3.2, 1.8, 2, 2, 2.2, 2]}}
  }
}
]
}
